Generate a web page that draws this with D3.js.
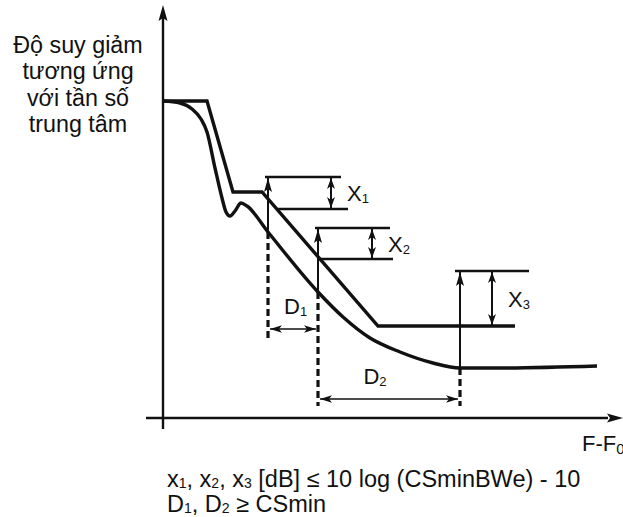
<!DOCTYPE html>
<html>
<head>
<meta charset="utf-8">
<script src="https://cdn.jsdelivr.net/npm/d3@7"></script>
<style>
  html, body { margin: 0; padding: 0; background: #fff; }
  svg { display: block; font-family: "Liberation Sans", Arial, sans-serif; }
</style>
</head>
<body>
<svg id="chart" width="623" height="517"></svg>
<script>
// Frequency offset (F - F0) and attenuation, in arbitrary diagram units
const maskF   = [0, 4.4, 7.0, 9.9, 21.5, 35.2];
const maskA   = [31.7, 31.7, 22.6, 22.6, 9.2, 9.2];

const respF   = [0, 1.7, 2.9, 3.8, 4.4, 5.2, 5.9, 6.3, 6.7, 7.2, 7.8, 8.4, 10.5, 15.5, 18.0, 20.7, 23.7, 27.0, 29.7, 33.7, 43.4];
const respA   = [31.7, 31.5, 30.9, 29.9, 28.6, 25.0, 22.0, 20.6, 20.2, 20.7, 21.5, 21.2, 18.6, 12.6, 10.1, 8.0, 6.6, 5.5, 5.0, 5.0, 5.2];

// Margin measurements X1..X3: where they are taken and their extents
const markNames   = ["1", "2", "3"];
const markF       = [10.5, 15.5, 29.7];   // vertical arrow position
const markRespA   = [18.6, 12.6, 5.0];    // response level at that frequency
const markTopA    = [24.1, 19.0, 14.7];   // upper reference line
const markLowA    = [20.9, 15.9, 9.2];    // mask level (lower reference line)
const topLineF    = [[10.2, 17.8], [15.2, 22.7], [29.2, 36.6]];
const lowLineF    = [[11.5, 18.5], [15.5, 23.0], null];
const dblArrowF   = [16.8, 20.9, 32.9];

// Spacings D1, D2
const spanNames = ["1", "2"];
const spanFrom  = [10.5, 15.5];
const spanTo    = [15.5, 29.7];
const spanA     = [8.9, 1.9];
const dashBottomA = [7.8, 1.2, 1.2];

const yLabelLines = ["Độ suy giảm", "tương ứng", "với tần số", "trung tâm"];

const svg = d3.select("#chart");
const x = d3.scaleLinear().domain([0, 46]).range([163, 623]);
const y = d3.scaleLinear().domain([0, 41.3]).range([418, 5]);

const ink = "#111";

function arrowHead(px, py, dir, len = 13, half = 4) {
  // dir: "up", "down", "left", "right"
  let pts;
  if (dir === "up")    pts = [[px, py], [px - half, py + len], [px, py + len - 3], [px + half, py + len]];
  if (dir === "down")  pts = [[px, py], [px - half, py - len], [px, py - len + 3], [px + half, py - len]];
  if (dir === "left")  pts = [[px, py], [px + len, py - half], [px + len - 3, py], [px + len, py + half]];
  if (dir === "right") pts = [[px, py], [px - len, py - half], [px - len + 3, py], [px - len, py + half]];
  svg.append("path").attr("d", "M" + pts.map(p => p.join(",")).join("L") + "Z").attr("fill", ink);
}

function hLine(f0, f1, a, w) {
  svg.append("line").attr("x1", x(f0)).attr("x2", x(f1)).attr("y1", y(a)).attr("y2", y(a))
    .attr("stroke", ink).attr("stroke-width", w);
}
function vLine(f, a0, a1, w, dash) {
  const l = svg.append("line").attr("x1", x(f)).attr("x2", x(f)).attr("y1", y(a0)).attr("y2", y(a1))
    .attr("stroke", ink).attr("stroke-width", w);
  if (dash) l.attr("stroke-dasharray", dash);
}

// Axes
svg.append("line").attr("x1", x(0)).attr("x2", x(0)).attr("y1", 429).attr("y2", y(40))
  .attr("stroke", ink).attr("stroke-width", 2.4);
arrowHead(x(0), y(41.3), "up", 16, 4.5);
svg.append("line").attr("x1", 146).attr("x2", x(44.5)).attr("y1", y(0)).attr("y2", y(0))
  .attr("stroke", ink).attr("stroke-width", 2.4);
arrowHead(x(46), y(0), "right", 16, 4.5);

// Dashed projection lines
markF.forEach((f, i) => vLine(f, markRespA[i], dashBottomA[i], 3.2, "7,4"));

// Mask and filter response
const line = d3.line().x(d => x(d[0])).y(d => y(d[1]));
svg.append("path").datum(maskF.map((f, i) => [f, maskA[i]]))
  .attr("d", line).attr("fill", "none").attr("stroke", ink).attr("stroke-width", 3.4)
  .attr("stroke-linejoin", "miter");
svg.append("path").datum(respF.map((f, i) => [f, respA[i]]))
  .attr("d", line.curve(d3.curveMonotoneX)).attr("fill", "none").attr("stroke", ink)
  .attr("stroke-width", 3.4).attr("stroke-linejoin", "round");

// X margins
markNames.forEach((n, i) => {
  hLine(topLineF[i][0], topLineF[i][1], markTopA[i], 2.4);
  if (lowLineF[i]) hLine(lowLineF[i][0], lowLineF[i][1], markLowA[i], 2.4);
  // upward arrow from response to top reference
  vLine(markF[i], markRespA[i], markTopA[i], 2, null);
  arrowHead(x(markF[i]), y(markTopA[i]) + 1, "up", 14, 4);
  // double arrow between reference lines
  vLine(dblArrowF[i], markTopA[i], markLowA[i], 2, null);
  arrowHead(x(dblArrowF[i]), y(markTopA[i]) + 1, "up", 11, 4);
  arrowHead(x(dblArrowF[i]), y(markLowA[i]) - 1, "down", 11, 4);
  const t = svg.append("text").attr("x", x(dblArrowF[i]) + 16)
    .attr("y", (y(markTopA[i]) + y(markLowA[i])) / 2 + 8)
    .attr("font-size", 22).attr("fill", ink);
  t.append("tspan").text("X");
  t.append("tspan").attr("font-size", 13).attr("dy", 2).text(n);
});

// D spacings
spanNames.forEach((n, i) => {
  svg.append("line").attr("x1", x(spanFrom[i]) + 2).attr("x2", x(spanTo[i]) - 2)
    .attr("y1", y(spanA[i])).attr("y2", y(spanA[i])).attr("stroke", ink).attr("stroke-width", 1.6);
  arrowHead(x(spanFrom[i]) + 2, y(spanA[i]), "left", 12, 3.8);
  arrowHead(x(spanTo[i]) - 2, y(spanA[i]), "right", 12, 3.8);
  const t = svg.append("text")
    .attr("x", x(spanFrom[i]) + 0.32 * (x(spanTo[i]) - x(spanFrom[i])))
    .attr("y", y(spanA[i]) - 15)
    .attr("font-size", 22).attr("fill", ink);
  t.append("tspan").text("D");
  t.append("tspan").attr("font-size", 13).attr("dy", 2).text(n);
});

// Axis titles
svg.append("text").attr("x", 78).attr("y", 53).attr("text-anchor", "middle")
  .attr("font-size", 23.3).attr("fill", ink)
  .selectAll("tspan").data(yLabelLines).join("tspan")
  .attr("x", 78).attr("dy", (d, i) => i === 0 ? 0 : 26.4).text(d => d);

const fx = svg.append("text").attr("x", 582).attr("y", 451).attr("font-size", 22).attr("fill", ink);
fx.append("tspan").text("F-F");
fx.append("tspan").attr("font-size", 15).attr("dy", 3).text("0");

// Conditions
function conditionLine(parts, yPos) {
  const t = svg.append("text").attr("x", 167).attr("y", yPos).attr("font-size", 23.5).attr("fill", ink);
  let shifted = false;
  parts.forEach(([s, sub]) => {
    const ts = t.append("tspan").text(s);
    if (sub) { ts.attr("font-size", 14).attr("dy", shifted ? 0 : 1); shifted = true; }
    else if (shifted) { ts.attr("dy", -1); shifted = false; }
  });
}
conditionLine([["x", false], ["1", true], [", x", false], ["2", true], [", x", false], ["3", true],
               [" [dB] ≤ 10 log (CSminBWe) - 10", false]], 487);
conditionLine([["D", false], ["1", true], [", D", false], ["2", true], [" ≥ CSmin", false]], 512);
</script>
</body>
</html>
